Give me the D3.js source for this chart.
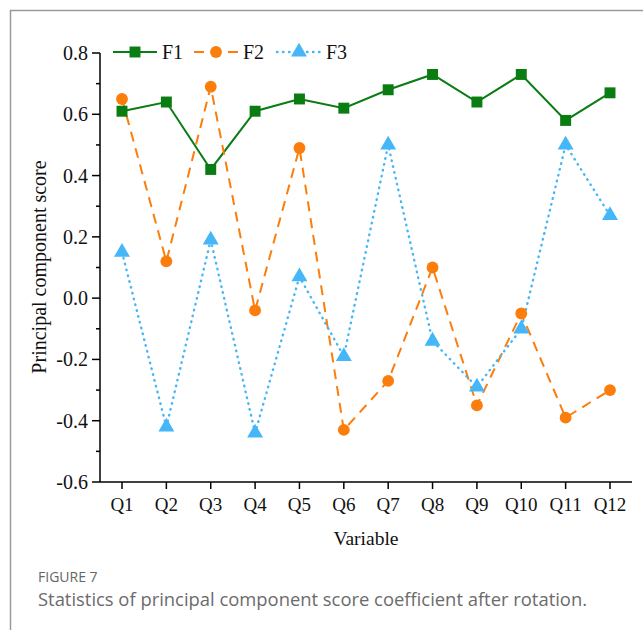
<!DOCTYPE html>
<html>
<head>
<meta charset="utf-8">
<script src="https://cdn.jsdelivr.net/npm/d3@7"></script>
<style>
  html, body { margin: 0; padding: 0; background: #fff; }
  svg { display: block; }
</style>
</head>
<body>
<svg id="chart" width="643" height="630"></svg>
<script>
// Principal component score coefficients per questionnaire item
const categories = ["Q1","Q2","Q3","Q4","Q5","Q6","Q7","Q8","Q9","Q10","Q11","Q12"];
const f1 = [0.61, 0.64, 0.42, 0.61, 0.65, 0.62, 0.68, 0.73, 0.64, 0.73, 0.58, 0.67];
const f2 = [0.65, 0.12, 0.69, -0.04, 0.49, -0.43, -0.27, 0.10, -0.35, -0.05, -0.39, -0.30];
const f3 = [0.15, -0.42, 0.19, -0.44, 0.07, -0.19, 0.50, -0.14, -0.29, -0.10, 0.50, 0.27];
const yTicks = [-0.6, -0.4, -0.2, 0.0, 0.2, 0.4, 0.6, 0.8];
const seriesNames = ["F1", "F2", "F3"];

const DASHED = "10,7", DOTTED = "0.5,5.5";
const series = [
  { name: seriesNames[0], values: f1, color: "#0a7d12", dash: null, cap: "butt", shape: d3.symbolSquare, size: 120 },
  { name: seriesNames[1], values: f2, color: "#fb7d0b", dash: DASHED, cap: "butt", shape: d3.symbolCircle, size: 110 },
  { name: seriesNames[2], values: f3, color: "#45b6f7", dash: DOTTED, cap: "round", shape: d3.symbolTriangle, size: 110 }
];

const svg = d3.select("#chart");
const font = "'Liberation Serif', 'Times New Roman', serif";

// figure frame
svg.append("path")
  .attr("d", "M10.5,660 V10.5 H660")
  .attr("fill", "none").attr("stroke", "#9a9a9a").attr("stroke-width", 1.5);

const x = d3.scalePoint().domain(categories).range([122, 610]);
const y = d3.scaleLinear().domain([-0.6, 0.8]).range([482, 53]);
const axisLeft = 100, axisRight = 632;

const g = svg.append("g");

// y axis
g.append("line").attr("x1", axisLeft).attr("x2", axisLeft)
  .attr("y1", y(-0.6)).attr("y2", y(0.8))
  .attr("stroke", "#000").attr("stroke-width", 1.5);
const minor = d3.range(-0.5, 0.8, 0.2);
g.selectAll(".ytick").data(yTicks).join("line")
  .attr("x1", axisLeft - 8).attr("x2", axisLeft)
  .attr("y1", d => y(d)).attr("y2", d => y(d))
  .attr("stroke", "#000").attr("stroke-width", 1.5);
g.selectAll(".yminor").data(minor).join("line")
  .attr("x1", axisLeft - 4).attr("x2", axisLeft)
  .attr("y1", d => y(d)).attr("y2", d => y(d))
  .attr("stroke", "#000").attr("stroke-width", 1.5);
g.selectAll(".ylab").data(yTicks).join("text")
  .attr("x", axisLeft - 12).attr("y", d => y(d))
  .attr("dy", "0.35em").attr("text-anchor", "end")
  .attr("font-family", font).attr("font-size", 20).attr("fill", "#111")
  .text(d => d.toFixed(1));

// x axis
g.append("line").attr("x1", axisLeft).attr("x2", axisRight)
  .attr("y1", y(-0.6)).attr("y2", y(-0.6))
  .attr("stroke", "#000").attr("stroke-width", 1.5);
g.selectAll(".xtick").data(categories).join("line")
  .attr("x1", d => x(d)).attr("x2", d => x(d))
  .attr("y1", y(-0.6)).attr("y2", y(-0.6) + 7)
  .attr("stroke", "#000").attr("stroke-width", 1.5);
g.selectAll(".xlab").data(categories).join("text")
  .attr("x", d => x(d)).attr("y", y(-0.6) + 29)
  .attr("text-anchor", "middle")
  .attr("font-family", font).attr("font-size", 19).attr("fill", "#111")
  .text(d => d);

// axis titles
g.append("text").attr("x", 366).attr("y", 545)
  .attr("text-anchor", "middle").attr("font-family", font)
  .attr("font-size", 19.5).attr("fill", "#111").text("Variable");
g.append("text").attr("transform", "translate(46,267) rotate(-90)")
  .attr("text-anchor", "middle").attr("font-family", font)
  .attr("font-size", 20).attr("fill", "#111").text("Principal component score");

// lines
const line = d3.line().x((d, i) => x(categories[i])).y(d => y(d));
series.forEach(s => {
  g.append("path").datum(s.values)
    .attr("d", line).attr("fill", "none")
    .attr("stroke", s.color).attr("stroke-width", s.cap === "round" ? 2.4 : 2)
    .attr("stroke-dasharray", s.dash)
    .attr("stroke-linecap", s.cap);
});

// markers
series.forEach(s => {
  g.selectAll(null).data(s.values).join("path")
    .attr("transform", (d, i) => `translate(${x(categories[i])},${y(d)})`)
    .attr("d", d3.symbol().type(s.shape).size(s.size))
    .attr("fill", s.color);
});

// legend
const legX = [113, 194, 277];
series.forEach((s, i) => {
  const lx = legX[i], ly = 52;
  g.append("line").attr("x1", lx).attr("x2", lx + 44)
    .attr("y1", ly).attr("y2", ly)
    .attr("stroke", s.color).attr("stroke-width", s.cap === "round" ? 2.4 : 2)
    .attr("stroke-dasharray", s.dash)
    .attr("stroke-linecap", s.cap);
  g.append("path")
    .attr("transform", `translate(${lx + 22},${ly})`)
    .attr("d", d3.symbol().type(s.shape).size(s.size))
    .attr("fill", s.color);
  g.append("text").attr("x", lx + 49).attr("y", ly).attr("dy", "0.35em")
    .attr("font-family", font).attr("font-size", 20).attr("fill", "#111")
    .text(s.name);
});

// caption
svg.append("text").attr("x", 38).attr("y", 582)
  .attr("font-family", "'Open Sans', sans-serif").attr("font-size", 14)
  .attr("fill", "#666").text("FIGURE 7");
svg.append("text").attr("x", 38).attr("y", 606)
  .attr("font-family", "'Open Sans', sans-serif").attr("font-size", 18.4)
  .attr("fill", "#6b6b6b").text("Statistics of principal component score coefficient after rotation.");
</script>
</body>
</html>
